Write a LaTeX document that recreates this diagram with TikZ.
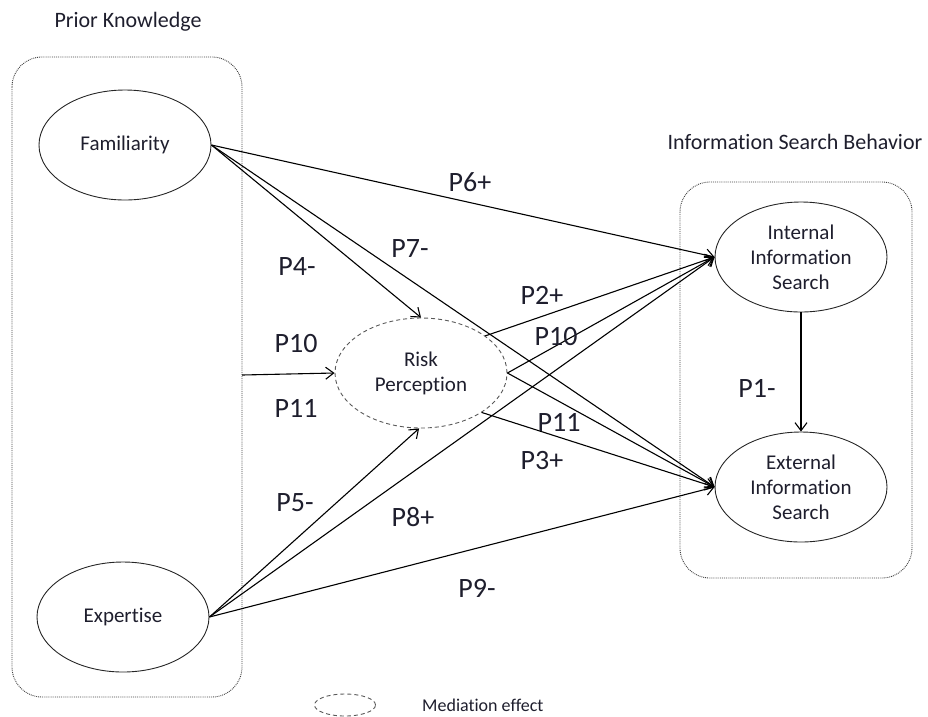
\documentclass[tikz,border=0pt]{standalone}
\usepackage{fontspec}
\setmainfont{Carlito}[Ligatures=NoCommon]
\usetikzlibrary{shapes.geometric,arrows.meta}
\definecolor{txt}{RGB}{30,30,45}
\begin{document}
\begin{tikzpicture}[x=1pt,y=-1pt,
  construct/.style={draw=black!85,line width=0.9pt,ellipse,minimum width=172pt,minimum height=110pt,inner sep=0pt,align=center,text=txt,font=\fontsize{21}{25}\selectfont},
  mediator/.style={construct,draw=black!65,dash pattern=on 4pt off 3pt},
  groupbox/.style={draw=black!75,densely dotted,line width=0.9pt,rounded corners=30pt},
  plabel/.style={text=txt,font=\fontsize{28}{30}\selectfont,inner sep=0pt},
  title/.style={text=txt,font=\fontsize{22}{26}\selectfont,inner sep=0pt},
  link/.style={draw=black,line width=1.1pt,-{Straight Barb[length=8pt,width=12pt,line width=1.1pt]}}]
\useasboundingbox (0,0) rectangle (928,716);
% group boxes
\draw[groupbox] (12,57) rectangle (242,697);
\draw[groupbox] (680,182) rectangle (912,578);
\node[title] (tPK) at (128,22) {Prior Knowledge};
\node[title] (tISB) at (795,142) {Information Search Behavior};
% constructs
\node[construct] (fam) at (125,145) {Familiarity};
\node[construct] (exp) at (123,617) {Expertise};
\node[mediator] (risk) at (421,373) {Risk\\Perception};
\node[construct] (int) at (801,257) {Internal\\Information\\Search};
\node[construct] (ext) at (801,487) {External\\Information\\Search};
\coordinate (boxedge) at (242,375);
% connectors
\draw[link] (fam.east) -- (int.west);
\draw[link] (fam.east) -- (risk.north);
\draw[link] (fam.east) -- (ext.west);
\draw[link] (exp.east) -- (risk.-92);
\draw[link] (exp.east) -- (int.west);
\draw[link] (exp.east) -- (ext.west);
\draw[link] (risk.30) -- (int.west);
\draw[link] (risk.east) -- (int.west);
\draw[link] (risk.east) -- (ext.west);
\draw[link] (risk.-33) -- (ext.west);
\draw[link] (boxedge) -- (risk.west);
\draw[link] (int.south) -- (ext.north);
% labels
\node[plabel] (lP6) at (470,182) {P6+};
\node[plabel] (lP7) at (410,249) {P7-};
\node[plabel] (lP4) at (297,267) {P4-};
\node[plabel] (lP2) at (542,295) {P2+};
\node[plabel] (lP10r) at (556,336) {P10};
\node[plabel] (lP10l) at (296,343) {P10};
\node[plabel] (lP11l) at (296,408) {P11};
\node[plabel] (lP11r) at (559,422) {P11};
\node[plabel] (lP3) at (542,460) {P3+};
\node[plabel] (lP5) at (295,503) {P5-};
\node[plabel] (lP8) at (413,517) {P8+};
\node[plabel] (lP9) at (477,588) {P9-};
\node[plabel] (lP1) at (757,388) {P1-};
% legend
\node[draw=black!65,dash pattern=on 4pt off 3pt,line width=0.9pt,ellipse,minimum width=61pt,minimum height=22pt,inner sep=0pt] (leg) at (345,705) {};
\node[text=txt,font=\fontsize{18}{20}\selectfont,anchor=west,inner sep=0pt] (legtxt) at (422,705) {Mediation effect};
\end{tikzpicture}
\end{document}
